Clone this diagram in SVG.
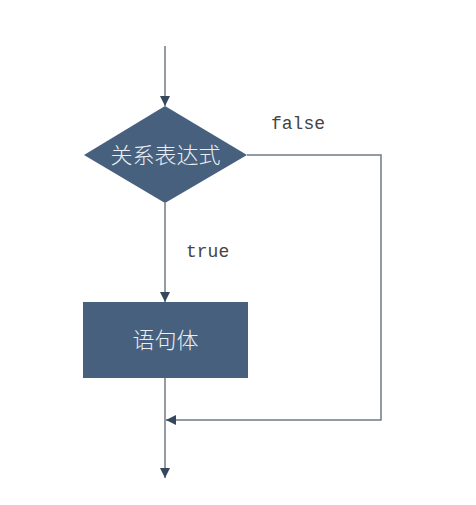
<svg xmlns="http://www.w3.org/2000/svg" width="476" height="505" viewBox="0 0 476 505">
<style>
.shape{fill:#46607e;}
.lbl{fill:#e9eef3;font-family:"Noto Sans CJK SC","Liberation Sans",sans-serif;font-size:22px;font-weight:300;text-anchor:middle;}
.cond{fill:#444;font-family:"Liberation Mono",monospace;font-size:18px;}
.wire{fill:none;stroke:#6f7a86;stroke-width:1.5;}
</style>
<defs>
<marker id="ah" viewBox="0 0 10 10" refX="10" refY="5" markerWidth="10" markerHeight="10" markerUnits="userSpaceOnUse" orient="auto">
<path d="M0,0 L10,5 L0,10 Z" fill="#34475c"/>
</marker>
</defs>
<rect width="476" height="505" fill="#ffffff"/>
<g id="connectors">
<path class="wire" d="M165,46 V106" marker-end="url(#ah)"/>
<path class="wire" d="M165,203 V302" marker-end="url(#ah)"/>
<path class="wire" d="M247,155 H381 V420 H166" marker-end="url(#ah)"/>
<path class="wire" d="M165,378 V478" marker-end="url(#ah)"/>
</g>
<g id="cond">
<polygon class="shape" points="165,106 247,155 165,203 84,155"/>
<text class="lbl" x="165.5" y="163">关系表达式</text>
</g>
<g id="body">
<rect class="shape" x="83" y="302" width="165" height="76"/>
<text class="lbl" x="165.5" y="348">语句体</text>
</g>
<g id="labels">
<text class="cond" x="271" y="129">false</text>
<text class="cond" x="186" y="257">true</text>
</g>
</svg>
